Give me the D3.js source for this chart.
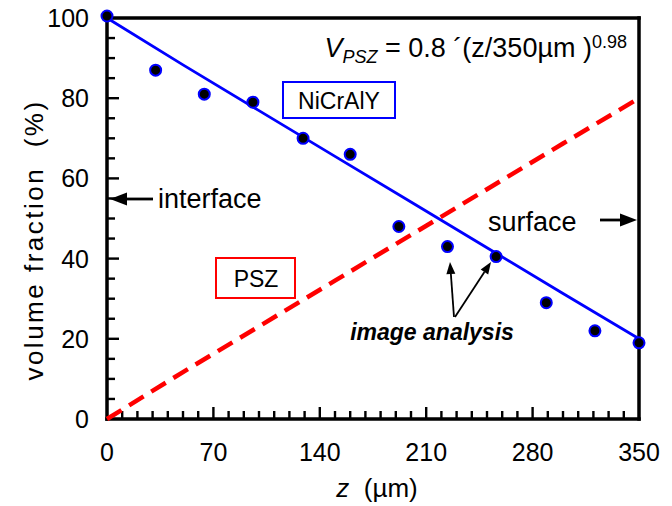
<!DOCTYPE html>
<html>
<head>
<meta charset="utf-8">
<script src="https://cdn.jsdelivr.net/npm/d3@7"></script>
<style>
  body { margin: 0; background: #fff; }
  svg { font-family: "Liberation Sans", Arial, sans-serif; }
</style>
</head>
<body>
<svg id="chart" width="672" height="506"></svg>
<script>
// measured points (image analysis)
const zMeas = [0, 32, 64, 96, 129, 160, 192, 224, 256, 289, 321, 350];
const vMeas = [100.5, 87, 81, 79, 70, 66, 48, 43, 40.5, 29, 22, 19];

// fitted curves
const zFit = [0, 50, 100, 150, 200, 250, 300, 350];
const pszFit = [0, 11.7, 23.1, 34.5, 45.9, 57.3, 68.7, 80];
const nicrFit = [100, 88.3, 76.9, 65.5, 54.1, 42.7, 31.3, 20];

const xTicks = [0, 70, 140, 210, 280, 350];
const yTicks = [0, 20, 40, 60, 80, 100];

const svg = d3.select('#chart');
const plotL = 107, plotR = 639, plotT = 18, plotB = 419;

const x = d3.scaleLinear().domain([0, 350]).range([plotL, plotR]);
const y = d3.scaleLinear().domain([0, 100]).range([plotB, plotT]);

// minor / major ticks, pointing inside
svg.append('g')
   .selectAll('rect')
   .data(d3.range(10, 350, 10))
   .enter()
   .append('rect')
   .attr('x', d => x(d) - 1.2)
   .attr('width', 2.4)
   .attr('y', d => plotB - (xTicks.includes(d) ? 12 : 8))
   .attr('height', d => xTicks.includes(d) ? 12 : 8)
   .attr('fill', '#000');

svg.append('g')
   .selectAll('rect')
   .data(d3.range(5, 100, 5))
   .enter()
   .append('rect')
   .attr('x', plotL)
   .attr('width', d => yTicks.includes(d) ? 12 : 8)
   .attr('y', d => y(d) - 1.2)
   .attr('height', 2.4)
   .attr('fill', '#000');

// frame
const fw = 3.5;
svg.append('g').selectAll('rect')
   .data([
      [plotL - fw / 2, plotT - fw / 2, plotR - plotL + fw, fw],
      [plotL - fw / 2, plotB - fw / 2, plotR - plotL + fw, fw],
      [plotL - fw / 2, plotT - fw / 2, fw, plotB - plotT + fw],
      [plotR - fw / 2, plotT - fw / 2, fw, plotB - plotT + fw]
   ])
   .enter()
   .append('rect')
   .attr('x', d => d[0]).attr('y', d => d[1])
   .attr('width', d => d[2]).attr('height', d => d[3])
   .attr('fill', '#000');

svg.selectAll('.xlab')
   .data(xTicks)
   .enter()
   .append('text')
   .attr('x', d => x(d))
   .attr('y', 461)
   .attr('text-anchor', 'middle')
   .style('font-size', '25px')
   .text(d => d);

svg.selectAll('.ylab')
   .data(yTicks)
   .enter()
   .append('text')
   .attr('x', 89)
   .attr('y', d => y(d) + 9)
   .attr('text-anchor', 'end')
   .style('font-size', '25px')
   .text(d => d);

// axis titles
svg.append('text')
   .attr('transform', 'translate(43,240) rotate(-90)')
   .attr('text-anchor', 'middle')
   .style('font-size', '26px')
   .style('letter-spacing', '2.5px')
   .attr('xml:space', 'preserve')
   .text('volume fraction  (%)');

const xt = svg.append('text')
   .attr('x', 377).attr('y', 497)
   .attr('text-anchor', 'middle')
   .style('font-size', '26px')
   .attr('xml:space', 'preserve');
xt.append('tspan').style('font-style', 'italic').text('z');
xt.append('tspan').text('  (µm)');

// fitted lines
const line = d3.line().x(d => x(d[0])).y(d => y(d[1]));

svg.append('path')
   .datum(zFit.map((z, i) => [z, nicrFit[i]]))
   .attr('d', line)
   .attr('fill', 'none')
   .attr('stroke', '#0000ff')
   .attr('stroke-width', 2.8);

svg.append('path')
   .datum(zFit.map((z, i) => [z, pszFit[i]]))
   .attr('d', line)
   .attr('fill', 'none')
   .attr('stroke', '#ff0000')
   .attr('stroke-width', 4.5)
   .attr('stroke-dasharray', '17,9');

// measured points
svg.selectAll('.pt')
   .data(zMeas)
   .enter()
   .append('circle')
   .attr('cx', d => x(d))
   .attr('cy', (d, i) => y(vMeas[i]))
   .attr('r', 5.5)
   .attr('fill', '#000')
   .attr('stroke', '#0000ff')
   .attr('stroke-width', 2);

// arrows drawn as shaft + triangle head
function arrow(x1, y1, x2, y2, w, headLen, headHalf) {
   const ang = Math.atan2(y2 - y1, x2 - x1);
   const bx = x2 - headLen * Math.cos(ang), by = y2 - headLen * Math.sin(ang);
   const px = -Math.sin(ang) * headHalf, py = Math.cos(ang) * headHalf;
   svg.append('path')
      .attr('d', 'M' + x1 + ',' + y1 + 'L' + bx + ',' + by)
      .attr('stroke', '#000').attr('stroke-width', w).attr('fill', 'none');
   svg.append('path')
      .attr('d', 'M' + x2 + ',' + y2 + 'L' + (bx + px) + ',' + (by + py) + 'L' + (bx - px) + ',' + (by - py) + 'Z')
      .attr('fill', '#000');
}

// formula
const f = svg.append('text')
   .attr('x', 627).attr('y', 57)
   .attr('text-anchor', 'end')
   .style('font-size', '27px');
f.append('tspan').style('font-style', 'italic').text('V');
f.append('tspan').style('font-style', 'italic').style('font-size', '18px').attr('dy', 6).text('PSZ');
f.append('tspan').attr('dy', -6).text(' = 0.8 ´(z/350µm )');
f.append('tspan').style('font-size', '18px').attr('dy', -9).text('0.98');

// labels with boxes
svg.append('rect')
   .attr('x', 283).attr('y', 82).attr('width', 112).attr('height', 36)
   .attr('fill', '#fff').attr('stroke', '#0000ff').attr('stroke-width', 2);
svg.append('text')
   .attr('x', 339).attr('y', 109)
   .attr('text-anchor', 'middle')
   .style('font-size', '23px')
   .text('NiCrAlY');

svg.append('rect')
   .attr('x', 216).attr('y', 258).attr('width', 79).attr('height', 40)
   .attr('fill', '#fff').attr('stroke', '#ff0000').attr('stroke-width', 2);
svg.append('text')
   .attr('x', 256).attr('y', 287)
   .attr('text-anchor', 'middle')
   .style('font-size', '23px')
   .text('PSZ');

svg.append('text')
   .attr('x', 158).attr('y', 208)
   .style('font-size', '27px')
   .text('interface');
arrow(153, 199, 110, 199, 2.8, 17, 6.5);

svg.append('text')
   .attr('x', 488).attr('y', 231)
   .style('font-size', '27px')
   .text('surface');
arrow(600, 220, 637, 220, 2.8, 17, 6.5);

svg.append('text')
   .attr('x', 432).attr('y', 340)
   .attr('text-anchor', 'middle')
   .style('font-size', '23px')
   .style('font-weight', 'bold')
   .style('font-style', 'italic')
   .text('image analysis');
arrow(454, 317, 450, 262, 1.8, 12, 4.5);
arrow(455, 317, 491, 262, 1.8, 12, 4.5);
</script>
</body>
</html>
